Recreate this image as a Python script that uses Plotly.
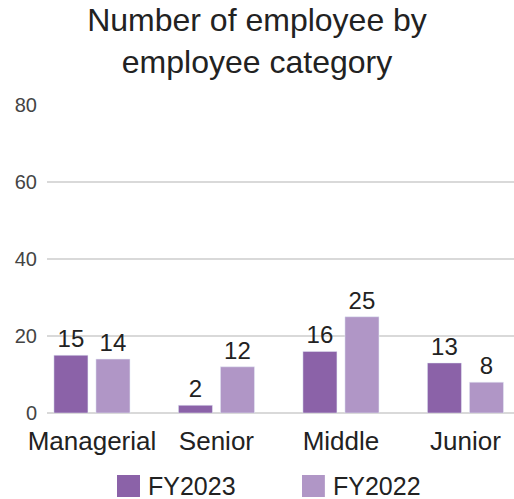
import plotly.graph_objects as go

categories = ["Managerial", "Senior", "Middle", "Junior"]
fy2023 = [15, 2, 16, 13]
fy2022 = [14, 12, 25, 8]
series_names = ["FY2023", "FY2022"]
y_ticks = [0, 20, 40, 60, 80]

c2023 = "#8B62A8"
c2022 = "#B096C6"
font_family = "Liberation Sans, Arial, Helvetica, sans-serif"

fig = go.Figure()
for name, vals, col in [(series_names[0], fy2023, c2023), (series_names[1], fy2022, c2022)]:
    fig.add_trace(go.Bar(
        x=categories, y=vals, name=name, marker_color=col,
        text=[str(v) for v in vals], textposition="outside",
        textfont=dict(size=24, color="#222222", family=font_family),
        cliponaxis=False, showlegend=False,
    ))

# custom legend (large square swatches)
legend_items = [
    (series_names[0], c2023, 0.1499, 0.1991, 0.2120),
    (series_names[1], c2022, 0.546, 0.595, 0.608),
]
for name, col, x0, x1, xt in legend_items:
    fig.add_shape(type="rect", xref="paper", yref="paper", x0=x0, x1=x1,
                  y0=-0.2727, y1=-0.2013, fillcolor=col, line_width=0)
    fig.add_annotation(xref="paper", yref="paper", x=xt, y=-0.237, text=name,
                       showarrow=False, xanchor="left", yanchor="middle",
                       font=dict(size=25, color="#222222", family=font_family))

fig.update_layout(
    width=514, height=499,
    margin=dict(l=47, r=0, t=105, b=86),
    paper_bgcolor="white", plot_bgcolor="white",
    barmode="group", bargap=0.325, bargroupgap=0.19,
    title=dict(text="Number of employee by<br>employee category",
               x=0.5, xref="container", xanchor="center",
               y=0.937, yref="container", yanchor="top",
               font=dict(size=32, color="#222222", family=font_family)),
    font=dict(family=font_family),
    xaxis=dict(range=[-0.361, 3.39], showgrid=False, showline=False,
               ticks="outside", ticklen=5, tickcolor="rgba(0,0,0,0)",
               tickfont=dict(size=26, color="#222222", family=font_family)),
    yaxis=dict(range=[0, 80], tickvals=y_ticks, showgrid=True,
               gridcolor="#d9d9d9", gridwidth=1.5, zeroline=True,
               zerolinecolor="#d9d9d9", zerolinewidth=1.5, showline=False,
               ticks="outside", ticklen=5, tickcolor="rgba(0,0,0,0)",
               tickfont=dict(size=20, color="#444444", family=font_family)),
)

fig.write_html("out.html", config={"displayModeBar": False},
               post_script="document.body.style.margin='0';")
